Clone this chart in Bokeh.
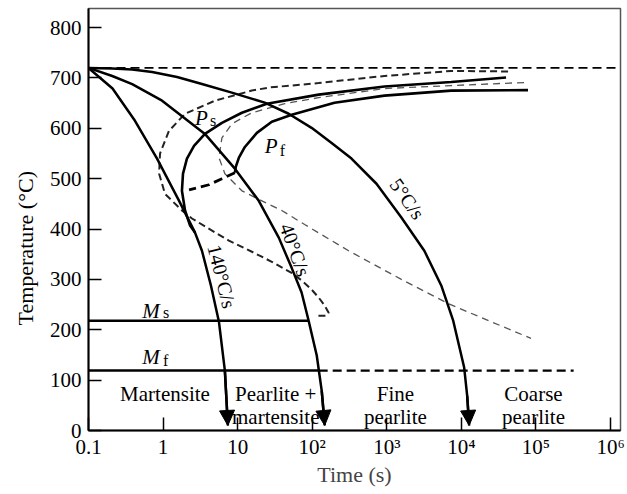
import math
from bokeh.plotting import figure
from bokeh.models import Range1d, FixedTicker, Arrow, NormalHead, Title
from bokeh.core.properties import value
from bokeh.embed import file_html
from bokeh.resources import INLINE

# ---- cooling curves: time (s) and temperature (°C) ----
rate140_t = [0.1, 0.21, 0.42, 0.83, 1.64, 2.68, 3.32, 4.38, 5.61, 6.74, 7.39]
rate140_T = [720, 679, 615, 540, 456, 393, 357, 288, 216, 119, 10]

rate40_t = [0.1, 0.208, 0.385, 0.97, 3.64, 9.18, 19.2, 35.6, 53, 72, 89.5, 115, 134, 147]
rate40_T = [720, 704, 688, 655, 589, 520, 456, 383, 323, 274, 218, 149, 79, 10]

rate5_t = [0.1, 0.208, 0.385, 0.713, 1.54, 3.32, 8.36, 23.1, 48.3, 98, 182, 336,
           727, 1568, 3184, 5370, 7770, 10900, 11960, 12710]
rate5_T = [720, 719, 717, 712, 702, 688, 671, 651, 629, 601, 571, 540,
           490, 423, 357, 288, 218, 125, 69, 10]

# ---- isothermal (TTT) curves ----
ttt_start_t = [42270, 7310, 929, 122, 26.1, 15.5, 4.96, 1.97, 1.20, 0.91, 0.885,
               1.06, 1.79, 2.44, 3.87, 7.63, 15.5, 28.7, 53, 72, 98, 122, 147,
               166, 155, 116]
ttt_start_T = [713, 714, 704, 690, 681, 675, 655, 629, 595, 550, 510,
               470, 437, 421, 403, 377, 355, 335, 313, 298, 280, 264, 248,
               234, 228, 228]

ttt_finish_t = [69180, 7310, 929, 122, 42.8, 15.5, 8.36, 6.15, 5.61, 6.74, 11.4,
                19.8, 39.0, 79.1, 307, 1568, 6665, 25000, 85700]
ttt_finish_T = [691, 685, 679, 661, 649, 631, 609, 581, 542, 510, 476,
                458, 437, 409, 357, 300, 252, 216, 183]

# ---- continuous-cooling start / finish curves ----
cct_start_t = [39720, 7310, 929, 122, 24.6, 11.4, 6.15, 3.64, 2.60, 2.09, 1.85,
               1.79, 1.97, 2.30, 2.68]
cct_start_T = [701, 692, 683, 667, 649, 631, 611, 589, 565, 540, 510,
               476, 437, 407, 393]

cct_finish_t = [78200, 7310, 929, 199, 53.1, 28.7, 18.1, 12.5, 10.4, 9.46, 9.18]
cct_finish_T = [676, 675, 665, 651, 627, 613, 591, 563, 542, 524, 512]

cct_finish_ext_t = [9.18, 6.15, 4.12, 2.85, 2.23]
cct_finish_ext_T = [512, 500, 488, 482, 478]

# ---- reference temperatures ----
eutectoid_T = 720
ms_T = 218
mf_T = 119
ms_end_t = 89.5
mf_solid_end_t = 122
mf_dash_end_t = 3.2e5

# ---- axes ----
x_ticks = [0.1, 1, 10, 100, 1e3, 1e4, 1e5, 1e6]
x_tick_labels = ["0.1", "1", "10", "10²", "10³", "10⁴", "10⁵", "10⁶"]
y_ticks = [0, 100, 200, 300, 400, 500, 600, 700, 800]

# ---- region names ----
region_line1 = ["Martensite", "Pearlite +", "Fine", "Coarse"]
region_line2 = ["", "martensite", "pearlite", "pearlite"]
region_t = [1.06, 32.4, 1303, 92700]

rate_labels = ["140°C/s", "40°C/s", "5°C/s"]

SERIF = value("Liberation Serif")

p = figure(width=627, height=494, x_axis_type="log",
           x_range=Range1d(0.1, 1.36e6), y_range=Range1d(0, 838),
           output_backend="svg", toolbar_location=None,
           min_border_left=88, min_border_right=7, min_border_top=8,
           min_border_bottom=64)
p.grid.visible = False
p.background_fill_color = "white"
p.border_fill_color = "white"
p.outline_line_color = "#555555"
p.outline_line_width = 1.5

for ax in (p.xaxis[0], p.yaxis[0]):
    ax.axis_line_width = 2
    ax.axis_line_color = "black"
    ax.major_tick_in = 13
    ax.major_tick_out = 0
    ax.major_tick_line_width = 1.5
    ax.major_tick_line_color = "black"
    ax.minor_tick_line_color = None
    ax.major_label_text_font = "Liberation Serif"
    ax.major_label_text_font_size = "21px"
    ax.major_label_text_color = "black"

p.xaxis.ticker = FixedTicker(ticks=x_ticks)
p.xaxis.major_label_overrides = dict(zip(x_ticks, x_tick_labels))
p.xaxis.major_label_standoff = 4
p.xaxis.axis_label = "Time (s)"
p.xaxis.axis_label_text_font = "Liberation Serif"
p.xaxis.axis_label_text_font_size = "22px"
p.xaxis.axis_label_text_font_style = "normal"
p.xaxis.axis_label_standoff = 0

p.yaxis.ticker = FixedTicker(ticks=y_ticks)
p.yaxis.major_label_standoff = 7

# vertical axis title, starting a little above the bottom of the frame
p.add_layout(Title(text="Temperature (°C)", align="left", offset=105,
                   text_font="Liberation Serif", text_font_size="22px",
                   text_font_style="normal", text_color="black", standoff=18),
             "left")

# horizontal reference lines
p.line([0.1, 1.36e6], [eutectoid_T, eutectoid_T], line_color="black",
       line_width=1.6, line_dash="9 5")
p.line([0.1, ms_end_t], [ms_T, ms_T], line_color="black", line_width=2.5)
p.line([0.1, mf_solid_end_t], [mf_T, mf_T], line_color="black", line_width=2.5)
p.line([mf_solid_end_t, mf_dash_end_t], [mf_T, mf_T], line_color="black",
       line_width=2.2, line_dash="9 5")

# isothermal curves
p.line(ttt_start_t, ttt_start_T, line_color="#222222", line_width=2,
       line_dash="7 4")
p.line(ttt_finish_t, ttt_finish_T, line_color="#555555", line_width=1.3,
       line_dash="7 5")

# continuous-cooling transformation curves
p.line(cct_start_t, cct_start_T, line_color="black", line_width=2.6)
p.line(cct_finish_t, cct_finish_T, line_color="black", line_width=2.6)
p.line(cct_finish_ext_t, cct_finish_ext_T, line_color="black", line_width=2.8,
       line_dash="9 5")

# cooling paths with arrowheads
for ts, Ts in ((rate140_t, rate140_T), (rate40_t, rate40_T), (rate5_t, rate5_T)):
    p.line(ts, Ts, line_color="black", line_width=2.5)
    p.add_layout(Arrow(end=NormalHead(size=15, fill_color="black",
                                      line_color="black", line_width=1),
                       x_start=ts[-2], y_start=Ts[-2], x_end=ts[-1], y_end=Ts[-1],
                       line_color="black", line_width=2.5))

# curve names
p.text(x=[2.68, 23.1, 0.524, 0.524], y=[621, 565, 238, 145],
       text=["P", "P", "M", "M"], text_font=SERIF, text_font_style="italic",
       text_font_size="21px", text_color="black",
       text_align="left", text_baseline="alphabetic")
p.text(x=[4.25, 36.7, 1.0, 1.0], y=[615, 556, 234, 139],
       text=["s", "f", "s", "f"], text_font=SERIF,
       text_font_size="16px", text_color="black",
       text_align="left", text_baseline="alphabetic")

# cooling rate labels along the curves
p.text(x=[6.15, 59, 1885], y=[306, 359, 460], text=rate_labels,
       angle=[math.radians(-76), math.radians(-70), math.radians(-55)],
       text_font=SERIF, text_font_size="20px", text_color="black",
       text_align="center", text_baseline="middle")

# microstructure regions
p.text(x=region_t, y=[73] * 4, text=region_line1, text_font=SERIF,
       text_font_size="21px", text_color="black",
       text_align="center", text_baseline="alphabetic")
p.text(x=region_t, y=[27] * 4, text=region_line2, text_font=SERIF,
       text_font_size="21px", text_color="black",
       text_align="center", text_baseline="alphabetic")

open("out.html", "w").write(file_html(p, INLINE))
